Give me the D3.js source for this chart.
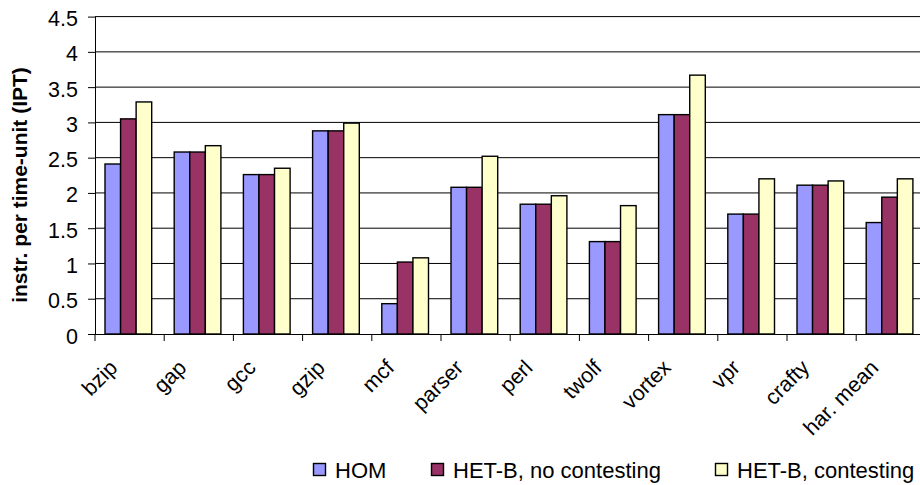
<!DOCTYPE html>
<html>
<head>
<meta charset="utf-8">
<script src="https://cdn.jsdelivr.net/npm/d3@7"></script>
<style>
  html, body { margin: 0; padding: 0; background: #fff; }
  svg { display: block; font-family: "Liberation Sans", Arial, sans-serif; }
</style>
</head>
<body>
<svg id="chart" width="920" height="485"></svg>
<script>
// Benchmarks on the x axis
const categories = ["bzip", "gap", "gcc", "gzip", "mcf", "parser", "perl", "twolf", "vortex", "vpr", "crafty", "har. mean"];

// Series names and their IPT values per benchmark
const seriesNames = ["HOM", "HET-B, no contesting", "HET-B, contesting"];
const homValues        = [2.41, 2.58, 2.26, 2.88, 0.43, 2.08, 1.84, 1.31, 3.11, 1.70, 2.11, 1.58];
const hetNoContValues  = [3.05, 2.58, 2.26, 2.88, 1.02, 2.08, 1.84, 1.31, 3.11, 1.70, 2.11, 1.94];
const hetContValues    = [3.29, 2.67, 2.35, 2.99, 1.08, 2.52, 1.96, 1.82, 3.67, 2.20, 2.17, 2.20];

// Y axis ticks
const yTicks = [0, 0.5, 1, 1.5, 2, 2.5, 3, 3.5, 4, 4.5];
const yTickLabels = ["0", "0.5", "1", "1.5", "2", "2.5", "3", "3.5", "4", "4.5"];
const yTitle = "instr. per time-unit (IPT)";

const seriesColors = ["#9999FF", "#993366", "#FFFFCC"];
const seriesValues = [homValues, hetNoContValues, hetContValues];

const svg = d3.select("#chart");
const plotLeft = 95, plotBottom = 334, plotTop = 16.6, bandW = 69.2;
const plotRight = plotLeft + bandW * categories.length;

const x = d3.scaleBand().domain(categories).range([plotLeft, plotRight]).paddingInner(0).paddingOuter(0);
const xs = d3.scaleBand().domain(seriesNames).range([10, 10 + 46.7]).padding(0);
const y = d3.scaleLinear().domain([0, 4.5]).range([plotBottom, plotTop]);
const color = d3.scaleOrdinal().domain(seriesNames).range(seriesColors);

// Horizontal gridlines
svg.append("g")
  .selectAll("line")
  .data(yTicks.filter(t => t > 0))
  .join("line")
  .attr("x1", plotLeft).attr("x2", 920)
  .attr("y1", d => y(d)).attr("y2", d => y(d))
  .attr("stroke", "#000").attr("stroke-width", 1);

// Bars
const rows = categories.map((c, i) => ({ cat: c, vals: seriesNames.map((s, j) => ({ s, v: seriesValues[j][i] })) }));
svg.append("g")
  .selectAll("g")
  .data(rows)
  .join("g")
  .attr("transform", d => `translate(${x(d.cat)},0)`)
  .selectAll("rect")
  .data(d => d.vals)
  .join("rect")
  .attr("x", d => xs(d.s))
  .attr("width", xs.bandwidth())
  .attr("y", d => y(d.v))
  .attr("height", d => plotBottom - y(d.v))
  .attr("fill", d => color(d.s))
  .attr("stroke", "#000")
  .attr("stroke-width", 1.4);

// Y axis
const yAxis = d3.axisLeft(y)
  .tickValues(yTicks)
  .tickFormat((d, i) => yTickLabels[i])
  .tickSize(7)
  .tickPadding(10);
const gy = svg.append("g").attr("transform", `translate(${plotLeft},0)`).call(yAxis);
gy.select(".domain").attr("stroke", "#000").attr("d", `M0.5,${plotTop}V${plotBottom}`);
gy.selectAll(".tick line").attr("stroke", "#000");
gy.selectAll(".tick text")
  .attr("fill", "#000")
  .attr("font-size", 21.5)
  .attr("dy", "0.42em");

// X axis
const xAxis = d3.axisBottom(x).tickSize(0).tickFormat("");
const gx = svg.append("g").attr("transform", `translate(0,${plotBottom})`).call(xAxis);
gx.select(".domain").attr("stroke", "#000").attr("d", `M${plotLeft},0.5H920`);
gx.selectAll(".tick").remove();

// Category separator ticks
svg.append("g")
  .selectAll("line")
  .data(d3.range(categories.length + 1))
  .join("line")
  .attr("x1", i => plotLeft + i * bandW).attr("x2", i => plotLeft + i * bandW)
  .attr("y1", plotBottom).attr("y2", plotBottom + 7)
  .attr("stroke", "#000");

// Rotated category labels
svg.append("g")
  .selectAll("text")
  .data(categories)
  .join("text")
  .attr("transform", d => `translate(${x(d) + x.bandwidth() / 2 - 11},${plotBottom + 35}) rotate(-45)`)
  .attr("text-anchor", "end")
  .attr("font-size", 21.5)
  .attr("fill", "#000")
  .text(d => d);

// Y axis title
svg.append("text")
  .attr("transform", `translate(27,185) rotate(-90)`)
  .attr("text-anchor", "middle")
  .attr("font-size", 21)
  .attr("font-weight", "bold")
  .attr("fill", "#000")
  .text(yTitle);

// Legend
const legendX = [313, 431, 715];
const lg = svg.append("g")
  .selectAll("g")
  .data(seriesNames)
  .join("g")
  .attr("transform", (d, i) => `translate(${legendX[i]},0)`);
lg.append("rect")
  .attr("x", 0.5).attr("y", 463.5)
  .attr("width", 12).attr("height", 12)
  .attr("fill", d => color(d))
  .attr("stroke", "#000").attr("stroke-width", 1.4);
lg.append("text")
  .attr("x", 22).attr("y", 478)
  .attr("font-size", 22)
  .attr("fill", "#000")
  .text(d => d);
</script>
</body>
</html>
